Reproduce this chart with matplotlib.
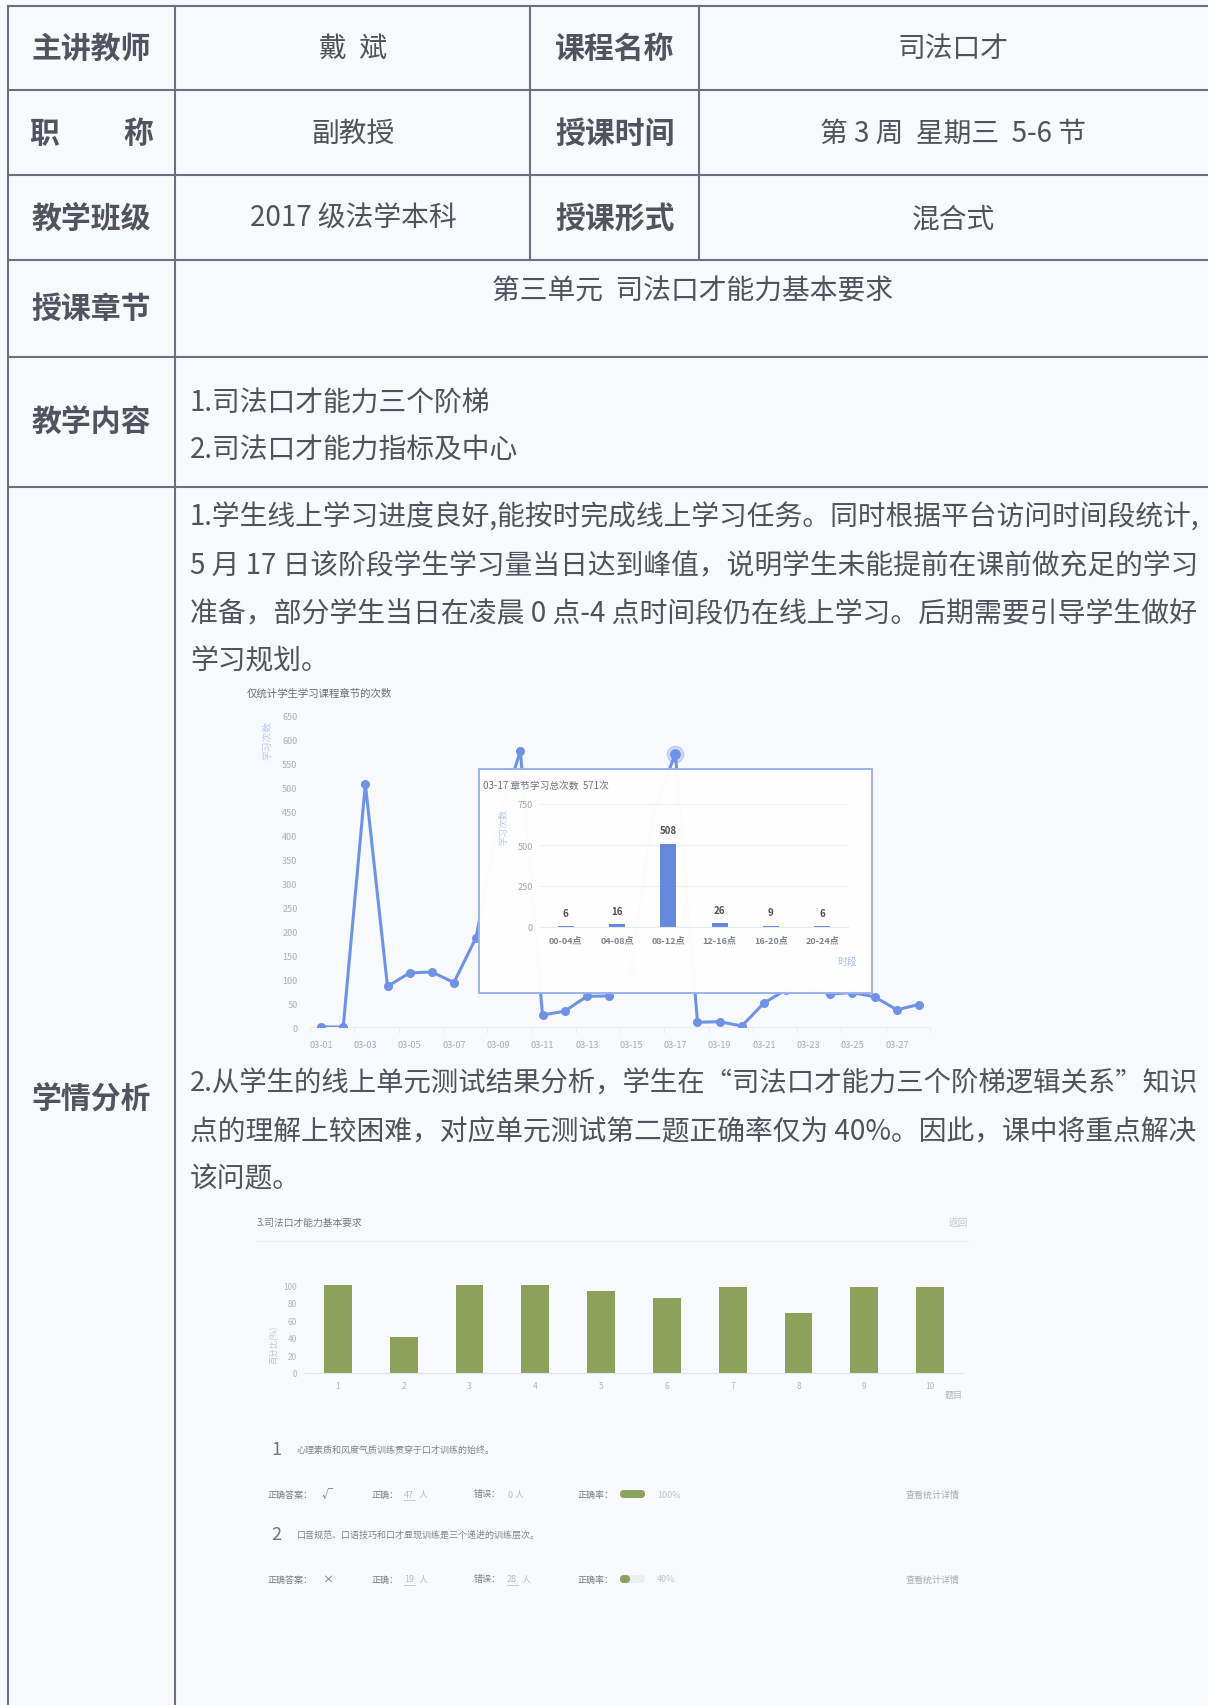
import numpy as np
import matplotlib.pyplot as plt
from matplotlib.patches import FancyBboxPatch

plt.rcParams['font.family'] = ['Noto Sans CJK SC', 'DejaVu Sans']

# ---- data ----
dates = ['03-%02d' % d for d in range(1, 29)]
study_counts = [0, 0, 508, 85, 113, 115, 93, 187, 430, 577, 25, 33, 64, 65,
                120, 450, 571, 10, 11, 2, 50, 78, 80, 69, 72, 63, 36, 47]
slot_labels = ['00-04点', '04-08点', '08-12点', '12-16点', '16-20点', '20-24点']
slot_counts = [6, 16, 508, 26, 9, 6]
question_ids = [str(i) for i in range(1, 11)]
correct_rate = [100, 40.4, 100, 100, 93.6, 85.1, 97.9, 68.1, 97.9, 97.9]

info_left = ['主讲教师', '职称', '教学班级']
info_left_val = ['戴  斌', '副教授', '2017 级法学本科']
info_right = ['课程名称', '授课时间', '授课形式']
info_right_val = ['司法口才', '第 3 周  星期三  5-6 节', '混合式']
chapter = '第三单元  司法口才能力基本要求'
content_lines = ['1.司法口才能力三个阶梯', '2.司法口才能力指标及中心']
para1 = ['1.学生线上学习进度良好,能按时完成线上学习任务。同时根据平台访问时间段统计,',
         '5 月 17 日该阶段学生学习量当日达到峰值，说明学生未能提前在课前做充足的学习',
         '准备，部分学生当日在凌晨 0 点-4 点时间段仍在线上学习。后期需要引导学生做好',
         '学习规划。']
para2 = ['2.从学生的线上单元测试结果分析，学生在“司法口才能力三个阶梯逻辑关系”知识',
         '点的理解上较困难，对应单元测试第二题正确率仅为 40%。因此，课中将重点解决',
         '该问题。']
questions = ['心理素质和风度气质训练贯穿于口才训练的始终。',
             '口音规范、口语技巧和口才显现训练是三个递进的训练层次。']
q_answer = ['√', '×']
q_right = [47, 19]
q_wrong = [0, 28]
q_rate = [100, 40]

W, H = 1208, 1706
fig = plt.figure(figsize=(W / 100, H / 100), dpi=100)
fig.patch.set_facecolor('#f8f9fd')

page = fig.add_axes([0, 0, 1, 1])
page.set_xlim(0, W)
page.set_ylim(H, 0)
page.axis('off')


def box_axes(x0, y0, x1, y1, **kw):
    # pixel box (top-left origin) -> figure axes
    return fig.add_axes([x0 / W, 1 - y1 / H, (x1 - x0) / W, (y1 - y0) / H], **kw)


# ---- table grid ----
lc = '#6c6f80'
lw = 1.5
for y in [6.5, 91.4, 176.3, 261.2, 358, 487.6]:
    page.plot([7.6, W], [y, y], color=lc, lw=lw)
for x in [7.6, 175]:
    page.plot([x, x], [6.5, H], color=lc, lw=lw)
for x in [530, 699]:
    page.plot([x, x], [6.5, 261.2], color=lc, lw=lw)

head_kw = dict(fontsize=21.5, color='#51535e', weight='bold', ha='center', va='center')
body_kw = dict(fontsize=20, color='#50525c', ha='center', va='center')
row_y = [49, 134, 219]
for i in range(3):
    if info_left[i] == '职称':
        page.text(44, row_y[i], '职', **head_kw)
        page.text(138, row_y[i], '称', **head_kw)
    else:
        page.text(91, row_y[i], info_left[i], **head_kw)
    page.text(353, row_y[i], info_left_val[i], **body_kw)
    page.text(615, row_y[i], info_right[i], **head_kw)
    page.text(953, row_y[i], info_right_val[i], **body_kw)

page.text(91, 309, '授课章节', **head_kw)
page.text(692, 291, chapter, **body_kw)
page.text(91, 422, '教学内容', **head_kw)
page.text(190, 404, content_lines[0], fontsize=20, color='#50525c', va='center')
page.text(190, 451, content_lines[1], fontsize=20, color='#50525c', va='center')
page.text(91, 1099, '学情分析', **head_kw)

rend = fig.canvas.get_renderer()


def text_line(x0, x1, y, s, justify):
    t = page.text(x0, y, s, fontsize=20, color='#50525c', va='center', ha='left')
    if justify:
        w = t.get_window_extent(rend).width
        t.set_fontsize(20 * (x1 - x0) / w)


for i, (s, y) in enumerate(zip(para1, [518, 566, 614, 661])):
    text_line(190, 1197, y, s, i < 3)
for i, (s, y) in enumerate(zip(para2, [1084, 1132, 1179])):
    text_line(190, 1197, y, s, i < 2)

# ---- line chart: study counts per day ----
blue = '#6f93e4'
page.text(247, 694, '仅统计学生学习课程章节的次数', fontsize=7.5, color='#6a6d78', va='center')
page.text(267, 740, '学习次数', fontsize=7, color='#b9c8f2', rotation=90, ha='center', va='center')

ax = box_axes(310, 717, 930, 1028)
ax.patch.set_alpha(0)
x = np.arange(len(dates))
ax.plot(x, study_counts, color=blue, lw=2.2, marker='o', ms=5.5, zorder=3)
peak = dates.index('03-17')
ax.scatter([peak], [study_counts[peak]], s=140, color=blue, alpha=0.3, zorder=4, clip_on=False)
ax.scatter([peak], [study_counts[peak]], s=45, color=blue, zorder=5, clip_on=False)
ax.set_xlim(-0.5, len(dates) - 0.5)
ax.set_ylim(0, 650)
ax.set_yticks(range(0, 651, 50))
ax.set_xticks(x[::2])
ax.set_xticklabels(dates[::2])
ax.set_xticks(np.arange(-0.5, len(dates), 2), minor=True)
ax.tick_params(axis='y', length=0, pad=9, labelsize=6.5, labelcolor='#a7adbd')
ax.tick_params(axis='x', which='major', length=0, pad=9, labelsize=6.5, labelcolor='#a2aac0')
ax.tick_params(axis='x', which='minor', length=4, color='#e6e9f1')
for sp in ['top', 'right', 'left']:
    ax.spines[sp].set_visible(False)
ax.spines['bottom'].set_color('#eceef4')

# popup with hourly breakdown for 03-17
pop = box_axes(479, 770, 872, 994)
pop.set_facecolor((1, 1, 1, 0.975))
pop.set_xticks([])
pop.set_yticks([])
for sp in pop.spines.values():
    sp.set_color('#9bb2ee')
    sp.set_linewidth(1.4)
pop.set_zorder(5)
pt = page.transData
pop.text(483, 786, '03-17 章节学习总次数  %d次' % study_counts[peak], transform=pt,
         fontsize=7, color='#6d707c', va='center')
pop.text(504, 827, '学习次数', transform=pt, fontsize=6.5, color='#b9c8f2',
         rotation=90, ha='center', va='center')
pop.text(847, 962, '时段', transform=pt, fontsize=7, color='#a8bbf0', ha='center', va='center')

bx = box_axes(540, 805, 848, 928)
bx.patch.set_alpha(0)
bx.set_zorder(6)
xs = np.arange(len(slot_labels))
bx.bar(xs, slot_counts, width=0.31, color='#6388de')
for xi, v in zip(xs, slot_counts):
    bx.annotate(str(v), (xi, v), xytext=(0, 9.5), textcoords='offset points',
                ha='center', va='center', fontsize=7, weight='bold', color='#4e5058')
bx.set_xlim(-0.5, len(slot_labels) - 0.5)
bx.set_ylim(0, 750)
bx.set_yticks([0, 250, 500, 750])
bx.set_xticks(xs)
bx.set_xticklabels(slot_labels, weight='bold')
bx.grid(axis='y', color='#eef0f6', lw=0.8)
bx.set_axisbelow(True)
bx.tick_params(axis='y', length=0, pad=5, labelsize=6.5, labelcolor='#9ea3b0')
bx.tick_params(axis='x', length=0, pad=6, labelsize=6.5, labelcolor='#80838e')
for sp in ['top', 'right', 'left']:
    bx.spines[sp].set_visible(False)
bx.spines['bottom'].set_color('#e6e9f1')

# ---- green chart: correct rate per question ----
page.text(257, 1223, '3.司法口才能力基本要求', fontsize=7, color='#777a82', va='center')
page.text(968, 1223, '返回', fontsize=7, color='#c0c2c8', ha='right', va='center')
page.plot([257, 968], [1242, 1242], color='#eceef3', lw=1)

gx = box_axes(305, 1286.4, 963, 1373.5)
gx.patch.set_alpha(0)
qx = np.arange(len(question_ids))
gx.bar(qx, correct_rate, width=0.42, color='#8ca25c')
gx.set_xlim(-0.5, len(question_ids) - 0.5)
gx.set_ylim(0, 100)
gx.set_yticks(range(0, 101, 20))
gx.set_xticks(qx)
gx.set_xticklabels(question_ids)
gx.tick_params(axis='y', length=0, pad=6, labelsize=6, labelcolor='#b3b5bb')
gx.tick_params(axis='x', length=0, pad=6, labelsize=6, labelcolor='#b3b5bb')
for sp in ['top', 'right', 'left']:
    gx.spines[sp].set_visible(False)
gx.spines['bottom'].set_color('#e2e4ea')
page.text(274, 1345, '百分比(%)', fontsize=6, color='#c4c6cc', rotation=90, ha='center', va='center')
page.text(954, 1395, '题目', fontsize=6.5, color='#b0b3ba', ha='center', va='center')

# ---- question details ----
green = '#8ca25c'
for i in range(2):
    yq = [1450, 1535][i]
    yr = [1495, 1580][i]
    page.text(276, yq, str(i + 1), fontsize=13, color='#70737c', ha='center', va='center')
    page.text(297, yq, questions[i], fontsize=6.5, color='#80838b', va='center')
    kw = dict(fontsize=6.5, color='#7a7d86', va='center')
    page.text(268, yr, '正确答案：', **kw)
    page.text(322, yr, q_answer[i], fontsize=8, color='#6a6d75', va='center')
    page.text(372, yr, '正确：', **kw)
    page.text(404, yr, str(q_right[i]), fontsize=6.5, color='#b9bcc3', va='center')
    page.plot([404, 415], [yr + 6, yr + 6], color='#c8cad0', lw=0.7)
    page.text(419, yr, '人', fontsize=6.5, color='#b9bcc3', va='center')
    page.text(474, yr, '错误：', **kw)
    page.text(507, yr, str(q_wrong[i]), fontsize=6.5, color='#b9bcc3', va='center')
    if q_wrong[i] > 0:
        page.plot([507, 518], [yr + 6, yr + 6], color='#c8cad0', lw=0.7)
    page.text(515 if q_wrong[i] < 10 else 522, yr, '人', fontsize=6.5, color='#b9bcc3', va='center')
    page.text(578, yr, '正确率：', **kw)
    page.add_patch(FancyBboxPatch((620, yr - 4), 25, 8, boxstyle='round,pad=0,rounding_size=4',
                                  fc='#eceef2', ec='none'))
    page.add_patch(FancyBboxPatch((620, yr - 4), 25 * q_rate[i] / 100, 8,
                                  boxstyle='round,pad=0,rounding_size=4', fc=green, ec='none'))
    page.text(657, yr, '%d%%' % q_rate[i], fontsize=6.5, color='#bfc2c8', va='center')
    page.text(960, yr, '查看统计详情', fontsize=6.5, color='#a9acb4', ha='right', va='center')

fig.savefig('out.png', dpi=100, facecolor=fig.get_facecolor())
